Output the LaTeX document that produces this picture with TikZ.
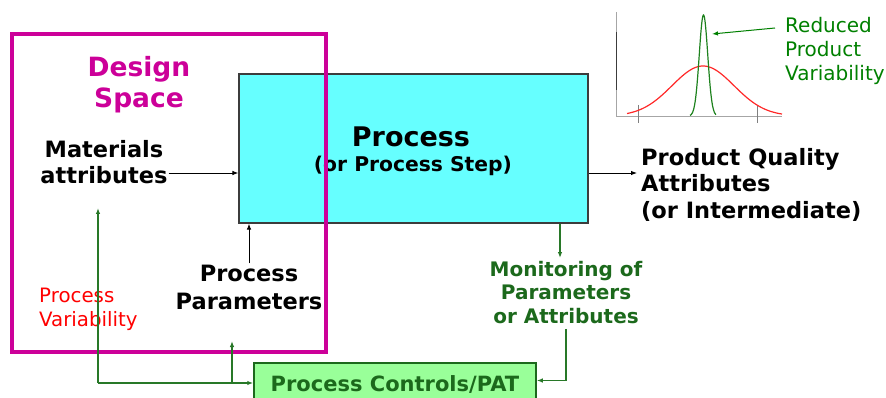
\documentclass[tikz,border=0pt]{standalone}
\usepackage{fontspec}
\setmainfont{DejaVu Sans}
\usetikzlibrary{arrows.meta}

\definecolor{dsmag}{RGB}{204,0,153}
\definecolor{proccyan}{RGB}{102,255,255}
\definecolor{pcfill}{RGB}{153,255,153}
\definecolor{dkgreen}{RGB}{28,105,28}
\definecolor{lngreen}{RGB}{40,120,40}
\definecolor{txtgreen}{RGB}{0,128,0}
\definecolor{curvered}{RGB}{255,40,40}
\definecolor{curvegreen}{RGB}{30,130,30}
\definecolor{boxgray}{RGB}{60,60,60}

\tikzset{
  blk/.style={draw=black, line width=0.9pt, -{Latex[length=6pt,width=4.5pt]}},
  garr/.style={draw=lngreen, line width=1.2pt, -{Latex[length=6pt,width=4.5pt]}},
  bigbold/.style={font=\fontsize{22.5}{26.5}\selectfont\bfseries, align=center, inner sep=1pt},
  greenbold/.style={font=\fontsize{20}{23.5}\selectfont\bfseries, text=dkgreen, align=center, inner sep=1pt},
  redreg/.style={font=\fontsize{19.8}{24.5}\selectfont, text=red, align=left, inner sep=0pt},
}

\begin{document}
\begin{tikzpicture}[x=1pt, y=-1pt]
\useasboundingbox (0,0) rectangle (886,398);
\clip (0,0) rectangle (886,398);

% main process block
\node[draw=boxgray, line width=1.2pt, fill=proccyan, minimum width=349pt, minimum height=149pt,
      inner sep=0pt] (proc) at (413.5,148.5) {};
\node[font=\fontsize{27}{30}\selectfont\bfseries, inner sep=0pt] (ptitle) at (411,137) {Process};
\node[font=\fontsize{20.3}{24}\selectfont\bfseries, inner sep=0pt] (psub) at (413,166) {(or Process Step)};

% design space frame, drawn over the process block
\node[draw=dsmag, line width=4pt, minimum width=314pt, minimum height=318pt, inner sep=0pt]
  (ds) at (169,193) {};
\node[font=\fontsize{26.5}{31}\selectfont\bfseries, text=dsmag, align=center, inner sep=0pt]
  (dstitle) at (139,85) {Design\\Space};

% inputs
\node[bigbold] (mat) at (104,162) {Materials\\attributes};
\node[bigbold, font=\fontsize{22.5}{28}\selectfont\bfseries] (pp) at (249,287) {Process\\Parameters};
\node[redreg, anchor=west] (pv) at (39,309.5) {Process\\Variability};

% output
\node[bigbold, align=left, anchor=west] (pq) at (640,184.5)
  {Product Quality\\Attributes\\(or Intermediate)};

% monitoring and control
\node[greenbold] (mon) at (566,292.5) {Monitoring of\\Parameters\\or Attributes};
\node[draw=dkgreen, line width=1.5pt, fill=pcfill, minimum width=282pt, minimum height=42pt,
      inner sep=0pt, font=\fontsize{21}{24}\selectfont\bfseries, text=dkgreen]
  (pc) at (395,384) {\raisebox{1pt}{Process Controls/PAT}};

% black flow arrows
\draw[blk] ([yshift=-24.5pt]proc.west -| mat.east) -- ([yshift=-24.5pt]proc.west);
\draw[blk] (pp.north) -- (pp.north |- proc.south);
\draw[blk] ([yshift=-24.5pt]proc.east) -- ([yshift=-24.5pt,xshift=-3pt]proc.east -| pq.west);

% feedback loop
\coordinate (fbL) at (98,383);
\coordinate (fbT) at (98,208);
\coordinate (fbM) at (232,383);
\coordinate (fbMT) at (232,341);
\coordinate (monin) at ([xshift=-6pt]mon.north);
\coordinate (monout) at ([yshift=-4pt]mon.south);
\draw[garr] (fbL) -- (fbT);
\draw[garr] (fbL) -- (fbL -| pc.west);
\draw[garr] (fbM) -- (fbMT);
\draw[garr] (monin |- proc.south) -- ([yshift=2pt]monin);
\draw[garr] (monout) |- ([yshift=3.5pt]pc.east);

% distribution inset
\coordinate (ax0) at (616,117);
\coordinate (axY) at (616,12);
\coordinate (axX) at (782,117);
\draw[draw=gray!70, line width=1pt] (axY) -- (ax0) -- (axX);
\draw[draw=boxgray, line width=1pt] (616,32) -- (616,90);
\draw[draw=gray, line width=1pt] (638,105) -- (638,123);
\draw[draw=gray, line width=1pt] (757,105) -- (757,123);
\draw[draw=curvered, line width=1.2pt] plot[domain=627:782, samples=120]
  (\x, {116-50*exp(-((\x-703)^2)/1922)});
\draw[draw=curvegreen, line width=1.2pt] plot[domain=690:716, samples=80]
  (\x, {116-101*exp(-((\x-703.5)^2)/36)});
\node[font=\fontsize{20}{24}\selectfont, text=txtgreen, align=left, anchor=west, inner sep=0pt]
  (rpv) at (785,51) {Reduced\\Product\\Variability};
\draw[garr, draw=txtgreen, line width=1pt] ([xshift=-10pt]rpv.west |- 0,28) -- (712,34);

\end{tikzpicture}
\end{document}
